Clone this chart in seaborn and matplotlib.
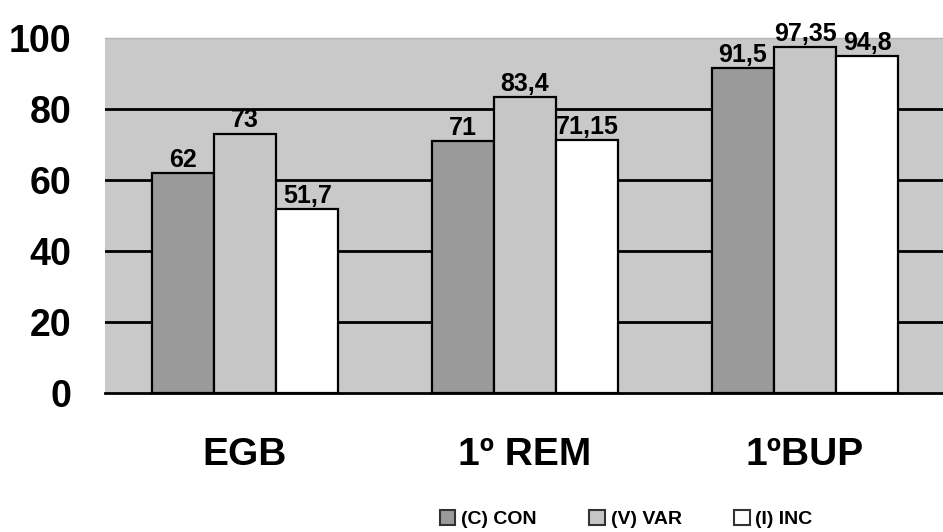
import matplotlib
matplotlib.use("Agg")
import matplotlib.pyplot as plt
import seaborn as sns
import pandas as pd
from matplotlib.patches import Patch

categories = ["EGB", "1º REM", "1ºBUP"]
series = ["(C) CON", "(V) VAR", "(I) INC"]
con_values = [62, 71, 91.5]
var_values = [73, 83.4, 97.35]
inc_values = [51.7, 71.15, 94.8]
value_labels = [["62", "71", "91,5"], ["73", "83,4", "97,35"], ["51,7", "71,15", "94,8"]]
y_ticks = [0, 20, 40, 60, 80, 100]

colors = ["#9a9a9a", "#c6c6c6", "#ffffff"]
bg = "#c9c9c9"

rows = []
for s, vals in zip(series, [con_values, var_values, inc_values]):
    for c, v in zip(categories, vals):
        rows.append({"cat": c, "series": s, "value": v})
df = pd.DataFrame(rows)

sns.set_style("white")
plt.rcParams["font.family"] = ["Liberation Sans", "DejaVu Sans"]
plt.rcParams["font.weight"] = "bold"
plt.rcParams["text.color"] = "black"
plt.rcParams["xtick.color"] = "black"
plt.rcParams["ytick.color"] = "black"

fig = plt.figure(figsize=(9.43, 5.32), dpi=100)
ax = fig.add_axes([105 / 943, 1 - 393 / 532, 840 / 943, (393 - 38) / 532])
ax.set_facecolor(bg)

sns.barplot(data=df, x="cat", y="value", hue="series", order=categories,
            hue_order=series, palette=colors, width=0.667, gap=0,
            edgecolor="black", linewidth=1.6, saturation=1, ax=ax, legend=False,
            zorder=3)

for cont, labs in zip(ax.containers, value_labels):
    ax.bar_label(cont, labels=labs, padding=1, fontsize=18, fontweight="bold",
                 color="black")

ax.set_ylim(0, 100)
ax.set_xlim(-0.5, 2.5)
ax.set_yticks(y_ticks)
ax.set_yticklabels([str(t) for t in y_ticks], fontsize=27, fontweight="bold",
                   color="black")
for t in y_ticks[1:-1]:
    ax.axhline(t, color="black", lw=2, zorder=1)
ax.tick_params(axis="y", length=0, pad=24)
ax.tick_params(axis="x", which="major", length=0, pad=32, labelsize=28,
               labelcolor="black")
for lab in ax.get_xticklabels():
    lab.set_fontweight("bold")
ax.set_xticks([-0.5, 0.5, 1.5], minor=True)
ax.tick_params(axis="x", which="minor", length=11, width=2, color="black")
ax.set_xlabel("")
ax.set_ylabel("")
for side in ["left", "right"]:
    ax.spines[side].set_visible(False)
ax.spines["top"].set_color("#b5b5b5")
ax.spines["top"].set_linewidth(1)
ax.spines["bottom"].set_color("black")
ax.spines["bottom"].set_linewidth(2)

handles = [Patch(facecolor=c, edgecolor="#333333", linewidth=1.5) for c in colors]
leg = fig.legend(handles, series, loc="center", bbox_to_anchor=(0.664, 1 - 519 / 532),
                 ncol=3, frameon=False, prop={"weight": "bold", "size": 14},
                 handlelength=0.8, handleheight=0.8, handletextpad=0.3,
                 columnspacing=2.7)
for t in leg.get_texts():
    t.set_color("black")

fig.savefig("out.png", dpi=100)
